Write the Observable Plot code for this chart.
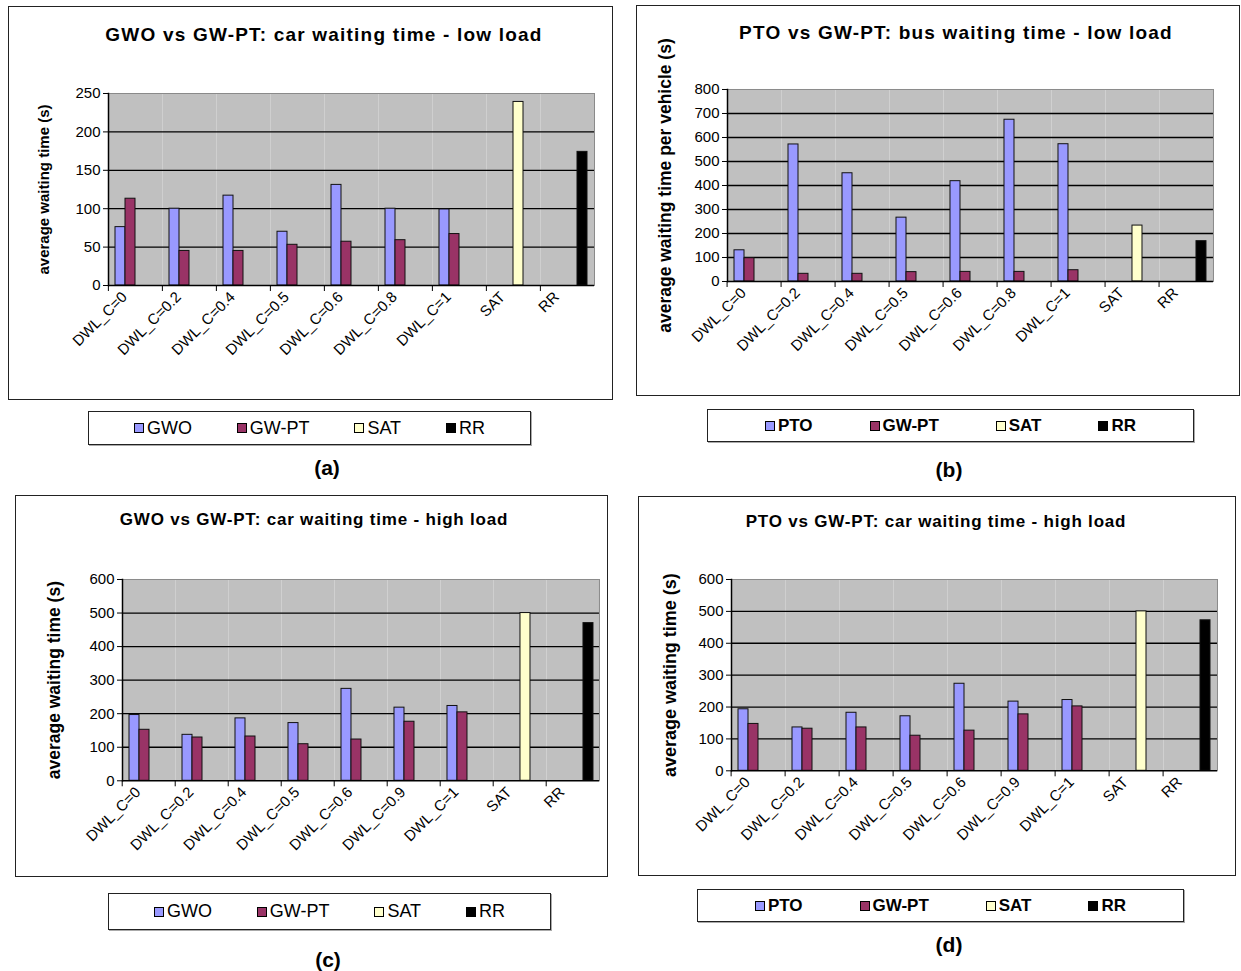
<!DOCTYPE html>
<html><head><meta charset="utf-8">
<script src="https://cdn.jsdelivr.net/npm/d3@7"></script>
<script src="https://cdn.jsdelivr.net/npm/@observablehq/plot@0.6"></script>
<style>
body{margin:0;background:#fff;}
#page{position:relative;width:1241px;height:971px;font-family:"Liberation Sans",Arial,sans-serif;color:#000;overflow:hidden;}
.box{position:absolute;border:1.5px solid #222;box-sizing:border-box;}
.title{position:absolute;transform:translate(-50%,-50%);font-weight:bold;white-space:nowrap;}
.legend{position:absolute;border:1.5px solid #222;box-sizing:border-box;display:flex;align-items:center;justify-content:space-evenly;box-shadow:1px 1px 0 #aaa;}
.item{display:flex;align-items:center;white-space:nowrap;}
.sw{width:8px;height:8px;border:1px solid #000;margin-right:3px;}
.caption{position:absolute;transform:translate(-50%,-50%);font-weight:bold;font-size:21px;white-space:nowrap;}
.chart{position:absolute;}
.chart svg{overflow:visible;}
</style></head><body><div id="page"></div>
<script>
// ---------- data ----------
const lowCategories = ["DWL_C=0","DWL_C=0.2","DWL_C=0.4","DWL_C=0.5","DWL_C=0.6","DWL_C=0.8","DWL_C=1","SAT","RR"];
const highCategories = ["DWL_C=0","DWL_C=0.2","DWL_C=0.4","DWL_C=0.5","DWL_C=0.6","DWL_C=0.9","DWL_C=1","SAT","RR"];

const seriesGWO = ["GWO","GW-PT","SAT","RR"];
const seriesPTO = ["PTO","GW-PT","SAT","RR"];
const seriesColors = ["#9999FF","#993366","#FFFFCC","#000000"];

// (a) car waiting time - low load
const carLowGWO  = [76,100,117,70,131,100,99];
const carLowGWPT = [113,45,45,53,57,59,67];
const carLowSAT = 239, carLowRR = 174;
// (b) bus waiting time - low load
const busLowPTO  = [130,571,451,266,418,674,572];
const busLowGWPT = [97,32,32,39,40,40,47];
const busLowSAT = 233, busLowRR = 168;
// (c) car waiting time - high load (GWO)
const carHighGWO  = [196,137,186,172,274,218,223];
const carHighGWPT = [152,129,132,109,123,176,204];
const carHighSAT = 500, carHighRR = 470;
// (d) car waiting time - high load (PTO)
const carHighPTO   = [193,136,182,171,273,217,222];
const carHighGWPT2 = [147,132,136,110,126,177,202];
const carHighSAT2 = 500, carHighRR2 = 472;

const ticksA = [0,50,100,150,200,250];
const ticksB = [0,100,200,300,400,500,600,700,800];
const ticksHigh = [0,100,200,300,400,500,600];

// ---------- build ----------
function rows(cats, series, v1, v2, sat, rr) {
  const out = [];
  cats.forEach((c, i) => {
    if (i < v1.length) {
      out.push({cat: c, series: series[0], value: v1[i]});
      out.push({cat: c, series: series[1], value: v2[i]});
    } else if (c === "SAT") out.push({cat: c, series: "SAT", value: sat});
    else out.push({cat: c, series: "RR", value: rr});
  });
  return out;
}

const page = document.getElementById("page");
function div(cls, css, html) {
  const d = document.createElement("div");
  d.className = cls;
  Object.assign(d.style, css);
  if (html != null) d.innerHTML = html;
  page.appendChild(d);
  return d;
}

function panel(cfg) {
  const [bl, bt, br, bb] = cfg.box;
  div("box", {left: bl + "px", top: bt + "px", width: (br - bl) + "px", height: (bb - bt) + "px"});
  div("title", {left: cfg.title.x + "px", top: cfg.title.y + "px", fontSize: cfg.title.size + "px",
    letterSpacing: cfg.title.spacing + "px"}, cfg.title.text);

  const [pl, pr, pt, pb] = cfg.plot;
  const ML = 95, MR = 12, MT = 70, MB = 100;
  const ymax = cfg.ticks[cfg.ticks.length - 1];
  const half = (pr - pl) / cfg.cats.length / 2;
  const chart = Plot.plot({
    width: ML + (pr - pl) + MR,
    height: MT + (pb - pt) + MB,
    marginLeft: ML, marginRight: MR, marginTop: MT, marginBottom: MB,
    style: {fontFamily: "Liberation Sans, Arial, sans-serif", background: "transparent", color: "#000", overflow: "visible"},
    fx: {domain: cfg.cats, padding: 0, label: null},
    x: {domain: cfg.series, paddingInner: 0, paddingOuter: 0.5, axis: null},
    y: {domain: [0, ymax], axis: null},
    color: {domain: cfg.series, range: seriesColors},
    marks: [
      Plot.frame({fill: "#c0c0c0", stroke: "none"}),
      Plot.ruleY(cfg.ticks.slice(1, -1), {stroke: "#000", strokeWidth: 1.3}),
      Plot.ruleY([ymax], {stroke: "#8a8a8a", strokeWidth: 1}),
      Plot.barY(cfg.data, {fx: "cat", x: "series", y: "value", fill: "series", stroke: "#111", strokeWidth: 1}),
      Plot.ruleY([0], {stroke: "#000", strokeWidth: 1.5}),
      Plot.frame({anchor: "left", facetAnchor: "left", stroke: "#000", strokeWidth: 1.5}),
      Plot.frame({anchor: "right", facetAnchor: "right", stroke: "#8a8a8a", strokeWidth: 1}),
      Plot.axisY({ticks: cfg.ticks, tickSize: 5, tickPadding: 3, tickFormat: d => d, fontSize: cfg.yTickSize, label: null}),
      Plot.axisY({ticks: cfg.ticks, tickSize: 0, tickFormat: () => "", fontSize: cfg.ylabel.size, fontWeight: "bold",
        label: cfg.ylabel.text, labelAnchor: "center", labelArrow: "none",
        labelOffset: pl - cfg.ylabel.cx + cfg.ylabel.size / 2}),
      Plot.axisFx({anchor: "bottom", tickRotate: -45, tickSize: 0, tickPadding: cfg.catPad, fontSize: cfg.catSize,
        label: null, dx: cfg.catDx}),
      Plot.axisFx({anchor: "bottom", tickSize: 6, tickFormat: () => "", label: null, dx: -half})
    ]
  });
  const holder = div("chart", {left: (pl - ML) + "px", top: (pt - MT) + "px"});
  holder.appendChild(chart);

  const [ll, lt, lr, lb] = cfg.legend.box;
  const lg = div("legend", {left: ll + "px", top: lt + "px", width: (lr - ll) + "px", height: (lb - lt) + "px",
    fontSize: cfg.legend.size + "px", fontWeight: cfg.legend.bold ? "bold" : "normal"});
  cfg.series.forEach((s, i) => {
    const it = document.createElement("div");
    it.className = "item";
    it.innerHTML = `<span class="sw" style="background:${seriesColors[i]}"></span><span>${s}</span>`;
    lg.appendChild(it);
  });
  div("caption", {left: cfg.caption.x + "px", top: cfg.caption.y + "px"}, cfg.caption.text);
}

panel({
  box: [8, 6, 613, 400], plot: [107, 595, 92.5, 284.5],
  title: {text: "GWO vs GW-PT: car waiting time - low load", x: 324, y: 35, size: 19, spacing: 1.2},
  ylabel: {text: "average waiting time (s)", cx: 44.6, size: 15},
  yTickSize: 15, catSize: 15, catPad: 9, catDx: -11,
  cats: lowCategories, series: seriesGWO, ticks: ticksA,
  data: rows(lowCategories, seriesGWO, carLowGWO, carLowGWPT, carLowSAT, carLowRR),
  legend: {box: [88, 411, 531, 445], size: 18, bold: false},
  caption: {text: "(a)", x: 327, y: 468}
});
panel({
  box: [636, 5, 1240, 396], plot: [723.3, 1216.7, 89, 281],
  title: {text: "PTO vs GW-PT: bus waiting time - low load", x: 956, y: 33, size: 19, spacing: 1.2},
  ylabel: {text: "average waiting time per vehicle (s)", cx: 663.5, size: 17.5},
  yTickSize: 15, catSize: 15, catPad: 9, catDx: -11,
  cats: lowCategories, series: seriesPTO, ticks: ticksB,
  data: rows(lowCategories, seriesPTO, busLowPTO, busLowGWPT, busLowSAT, busLowRR),
  legend: {box: [707, 409, 1194, 442], size: 17, bold: true},
  caption: {text: "(b)", x: 949, y: 470}
});
panel({
  box: [15, 495, 608, 877], plot: [118.6, 600.8, 578.7, 780],
  title: {text: "GWO vs GW-PT: car waiting time - high load", x: 314, y: 520, size: 17, spacing: 0.8},
  ylabel: {text: "average waiting time (s)", cx: 52, size: 17.5},
  yTickSize: 15, catSize: 15, catPad: 9, catDx: -11,
  cats: highCategories, series: seriesGWO, ticks: ticksHigh,
  data: rows(highCategories, seriesGWO, carHighGWO, carHighGWPT, carHighSAT, carHighRR),
  legend: {box: [108, 893, 551, 930], size: 18, bold: false},
  caption: {text: "(c)", x: 328, y: 960}
});
panel({
  box: [638, 496, 1236, 876], plot: [727, 1220, 578.7, 770],
  title: {text: "PTO vs GW-PT: car waiting time - high load", x: 936, y: 522, size: 17, spacing: 0.8},
  ylabel: {text: "average waiting time (s)", cx: 667.5, size: 18},
  yTickSize: 15, catSize: 15, catPad: 9, catDx: -11,
  cats: highCategories, series: seriesPTO, ticks: ticksHigh,
  data: rows(highCategories, seriesPTO, carHighPTO, carHighGWPT2, carHighSAT2, carHighRR2),
  legend: {box: [697, 889, 1184, 922], size: 17, bold: true},
  caption: {text: "(d)", x: 949, y: 945}
});
</script></body></html>
